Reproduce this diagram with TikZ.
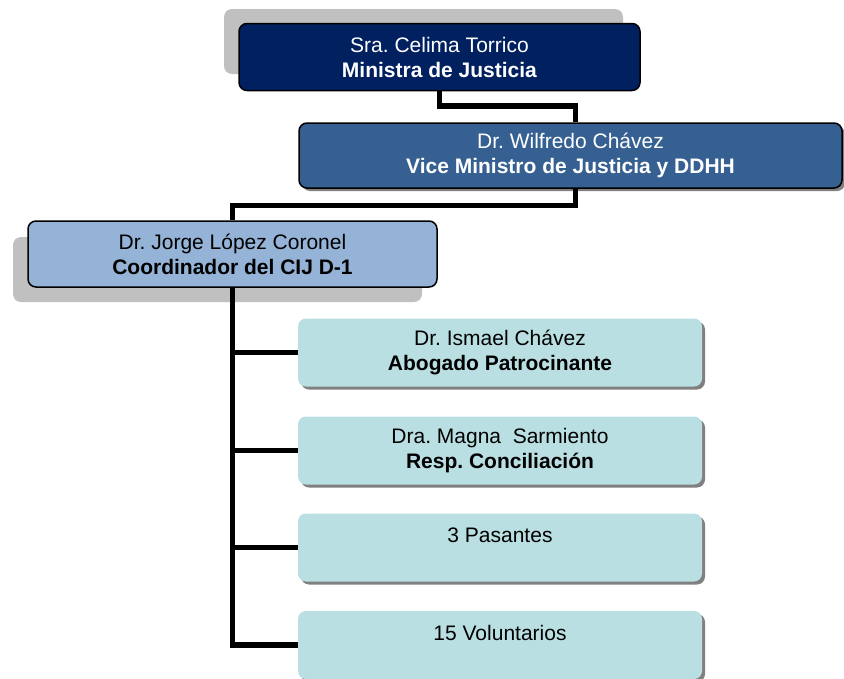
\documentclass[tikz,border=0pt]{standalone}
\usepackage{fontspec}
\setmainfont{Liberation Sans}
\usetikzlibrary{shadows}
\frenchspacing
\definecolor{navybox}{HTML}{002060}
\definecolor{vicebox}{HTML}{366092}
\definecolor{coordbox}{HTML}{95B3D7}
\definecolor{staffbox}{HTML}{BADFE2}
\definecolor{bigshade}{HTML}{C0C0C0}
\definecolor{smallshade}{HTML}{808080}
\tikzset{
  orgbox/.style={rectangle, rounded corners=8pt, align=center, inner sep=0pt,
    font=\fontsize{21}{25}\selectfont\frenchspacing},
  smallshadow/.style={drop shadow={shadow xshift=3pt, shadow yshift=-3pt, fill=smallshade, opacity=1}},
  bigshadow/.style={fill=bigshade, rounded corners=8pt},
  conn/.style={line width=5.5pt, black},
  staff/.style={orgbox, fill=staffbox, text=black, minimum width=404pt, minimum height=68pt, smallshadow},
}
\begin{document}
\begin{tikzpicture}[x=1pt,y=-1pt]
\useasboundingbox (0,0) rectangle (844,678);

% large light-gray shadows
\fill[bigshadow] (224,9) rectangle (623,74);
\fill[bigshadow] (13,237) rectangle (422,302);

% junction coordinates
\coordinate (j1) at (575.5,106);
\coordinate (j2) at (575.5,205.5);

% boxes
\node[orgbox, fill=navybox, draw=black, line width=1.5pt, text=white,
      minimum width=401pt, minimum height=67pt] (top) at (439.5,57)
      {Sra. Celima Torrico\\\textbf{Ministra de Justicia}};
\node[orgbox, fill=vicebox, draw=black, line width=1.5pt, text=white,
      minimum width=543pt, minimum height=65pt, smallshadow] (vice) at (570.5,155.5)
      {Dr. Wilfredo Chávez\\\textbf{Vice Ministro de Justicia y DDHH}};
\node[orgbox, fill=coordbox, draw=black, line width=1.5pt, text=black,
      minimum width=409pt, minimum height=66pt] (coord) at (232.5,254)
      {Dr. Jorge López Coronel\\\textbf{Coordinador del CIJ D-1}};
\node[staff] (abog) at (500,352.5) {Dr. Ismael Chávez\\\textbf{Abogado Patrocinante}};
\node[staff] (resp) at (500,450.5) {Dra. Magna\ \ Sarmiento\\\textbf{Resp. Conciliación}};
\node[staff] (pas) at (500,547.5) {3 Pasantes\\\mbox{}};
\node[staff] (vol) at (500,645) {15 Voluntarios\\\mbox{}};

% connectors
\draw[conn] (top.south) |- (j1) -- (j1 |- vice.north);
\draw[conn] (j2 |- vice.south) -- (j2) -| (coord.north);
\draw[conn] (coord.south) |- (vol.west);
\draw[conn] (coord.south) |- (abog.west);
\draw[conn] (coord.south) |- (resp.west);
\draw[conn] (coord.south) |- (pas.west);
\end{tikzpicture}
\end{document}
